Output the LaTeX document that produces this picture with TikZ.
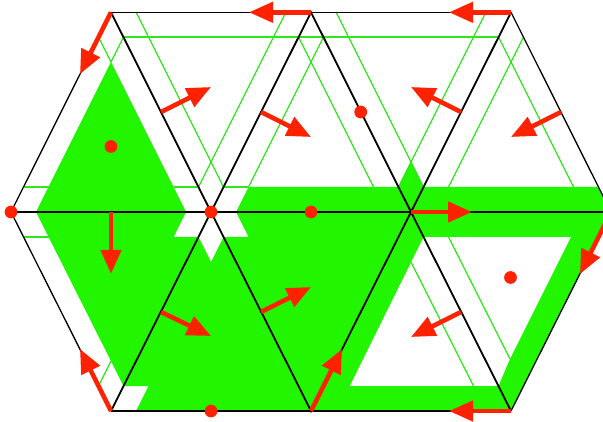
\documentclass[tikz,border=0pt]{standalone}
\usetikzlibrary{arrows.meta}
\definecolor{gfill}{HTML}{22F500}
\definecolor{gline}{HTML}{2FE81A}
\definecolor{redc}{HTML}{FF2200}
\tikzset{
  gridline/.style={draw=black,line width=1.3pt},
  innerline/.style={draw=black,line width=1.8pt},
  insetline/.style={draw=gline,line width=1.25pt},
  flow/.style={draw=redc,line width=4.6pt,-{Triangle[length=24pt,width=20pt,fill=redc]}},
  spot/.style={fill=redc}
}
\begin{document}
\begin{tikzpicture}[x=1pt,y=-1pt]
\useasboundingbox (0,0) rectangle (603,422);
\clip (0,0) rectangle (603,422);
% lattice vertices
\coordinate (t1) at (111,12.3); \coordinate (t2) at (311,12.3); \coordinate (t3) at (511,12.3);
\coordinate (m0) at (11,212); \coordinate (m1) at (211,212); \coordinate (m2) at (411,212); \coordinate (m3) at (611,212);
\coordinate (b1) at (111,411); \coordinate (b2) at (311,411); \coordinate (b3) at (511,411);
% edge midpoints used by the arrows
\coordinate (e1) at (161,112); \coordinate (e2) at (261,112); \coordinate (e3) at (461,112); \coordinate (e4) at (561,112);
\coordinate (e5) at (161,312); \coordinate (e6) at (261,312); \coordinate (e7) at (461,312);
\coordinate (c1) at (111,212);
% green region
\fill[gfill,even odd rule]
  (111,62) -- (186,212) -- (173.5,237) -- (198.5,237) -- (211,262) -- (223.5,237) -- (248.5,237)
  -- (236,212) -- (248.5,187) -- (398.5,187) -- (411,162) -- (423.5,187) -- (598.5,187)
  -- (m3) -- (b3) -- (136,411) -- (148.5,386) -- (123.5,386) -- (36,212) -- cycle
  (423.5,237) -- (571,237) -- (510,359) -- (498.5,386) -- (349.7,386) -- cycle;
% thin inset lines
\draw[insetline] (123.5,37) -- (498.5,37);
\draw[insetline] (24,187) -- (48.5,187);
\draw[insetline] (173.5,187) -- (198.5,187);
\draw[insetline] (223.5,187) -- (248.5,187);
\draw[insetline] (24,237) -- (49,237);
\draw[insetline] (98.5,37) -- (111,62) -- (123.5,37);
\draw[insetline] (136,12) -- (223.5,187);
\draw[insetline] (286,12) -- (198.5,187);
\draw[insetline] (248.5,187) -- (323.5,37);
\draw[insetline] (298.5,37) -- (373.5,187);
\draw[insetline] (336,12) -- (423.5,187);
\draw[insetline] (486,12) -- (398.5,187);
\draw[insetline] (448.5,187) -- (523.5,37);
\draw[insetline] (498.5,37) -- (573.5,187);
\draw[insetline] (98.5,386) -- (111,361);
\draw[insetline] (448.5,237) -- (510,359);
\draw[insetline] (411,262) -- (473.5,386);
% triangle lattice
\draw[gridline] (t1) -- (t3);
\draw[gridline] (b1) -- (b3);
\draw[gridline] (m0) -- (t1);
\draw[gridline] (m0) -- (b1);
\draw[gridline] (t3) -- (m3);
\draw[gridline] (m3) -- (b3);
\draw[innerline] (m0) -- (m3);
\draw[innerline] (t1) -- (m1) -- (t2) -- (m2) -- (t3);
\draw[innerline] (b1) -- (m1) -- (b2) -- (m2) -- (b3);
% arrows
\draw[flow] (t2) -- (249,12.3);
\draw[flow] (t3) -- (449,12.3);
\draw[flow] (t1) -- (80,74);
\draw[flow] (e1) -- (211,87);
\draw[flow] (e2) -- (311,137);
\draw[flow] (e3) -- (411,87);
\draw[flow] (e4) -- (511,137);
\draw[flow] (c1) -- (111,274);
\draw[flow] (m2) -- (472,212);
\draw[flow] (e5) -- (211,336);
\draw[flow] (e6) -- (311,287);
\draw[flow] (b2) -- (342,349);
\draw[flow] (e7) -- (411,337);
\draw[flow] (m3) -- (580,274);
\draw[flow] (b3) -- (449,411);
\draw[flow] (b1) -- (80,349);
% dots
\foreach \p in {(11,212),(211,212),(311,212),(111,146.5),(360.7,112),(510.5,277.5),(211,411)}
  \fill[spot] \p circle (6.4);
\end{tikzpicture}
\end{document}
